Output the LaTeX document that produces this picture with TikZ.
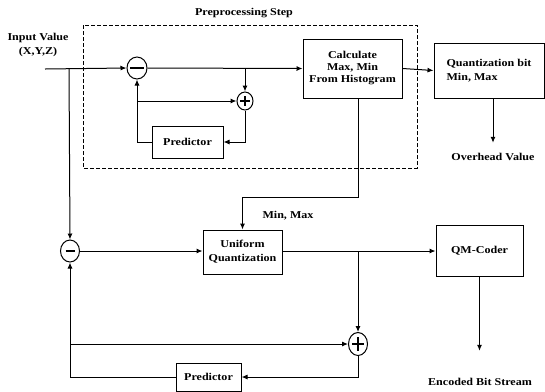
\documentclass[tikz,border=0pt]{standalone}
\usepackage{fontspec}
\setmainfont{Liberation Serif}[FakeStretch=1.15]
\usetikzlibrary{arrows.meta,shapes.geometric}

\begin{document}
\begin{tikzpicture}[x=1bp,y=-1bp,
    font=\fontsize{10.5bp}{12bp}\selectfont\bfseries,
    line width=1bp,
    >={Latex[length=6bp,width=5bp]},
    blok/.style={draw,align=center,inner sep=1bp},
    junc/.style={draw,ellipse,inner sep=0pt,minimum width=19bp,minimum height=22bp},
    lbl/.style={align=center,inner sep=1bp},
    sign/.style={line width=1.4bp}]
    \useasboundingbox (0,0) rectangle (545,391);

    % preprocessing part
    \draw[dashed,dash pattern=on 4bp off 2bp] (83,25) rectangle (417,168);
    \node[lbl] (pstep) at (244,13) {Preprocessing Step};

    \node[lbl] (inval) at (38,45) {Input Value\\[2bp](X,Y,Z)};
    \coordinate (in) at (45,69);
    \coordinate (s1) at (69,69);

    \node[junc,minimum width=20bp] (m1) at (137,68) {};
    \node[junc,minimum width=16bp,minimum height=18bp] (p1) at (245,101) {};
    \node[blok,minimum width=71bp,minimum height=32bp] (pred1) at (187.5,142) {Predictor};
    \node[blok,minimum width=99bp,minimum height=59bp] (calc) at (352.5,68.5) {Calculate\\Max, Min\\From Histogram};
    \node[blok,align=left,minimum width=110bp,minimum height=55bp] (quant) at (489,70.5) {Quantization bit\\[2bp]Min, Max};
    \node[lbl] (ov) at (493,157) {Overhead Value};

    \draw[sign] (m1.center) +(-7,0) -- +(7,0);
    \draw[sign] (p1.center) +(-5,0) -- +(5,0) (p1.center) +(0,-5) -- +(0,5);

    \coordinate (b1) at (245,68);
    \coordinate (b2) at (137,101);

    \draw[->] (in) -- (m1.west);
    \draw[->] (m1.east) -- (calc.west);
    \draw[->] (b1) -- (p1.north);
    \draw[->] (b2) -- (p1.west);
    \draw[->] (p1.south) |- (pred1.east);
    \draw[->] (pred1.west) -| (m1.south);
    \draw[->] (calc.east) -- (quant.west);
    \draw[->,shorten >=9bp] (ov |- quant.south) -- (ov.north);

    % coding part
    \node[junc] (m2) at (70,251) {};
    \node[blok,minimum width=79bp,minimum height=44bp] (uq) at (242.5,252) {Uniform\\[2bp]Quantization};
    \node[blok,minimum width=87bp,minimum height=51bp] (qm) at (479.5,250.5) {QM-Coder};
    \node[junc,minimum height=23bp] (p2) at (358,344) {};
    \node[blok,minimum width=65bp,minimum height=28bp] (pred2) at (208.5,377) {Predictor};
    \node[lbl] (mm) at (288,216) {Min, Max};
    \node[lbl] (ebs) at (480,382) {Encoded Bit Stream};

    \draw[sign] (m2.center) +(-4.5,0) -- +(4.5,0);
    \draw[sign] (p2.center) +(-6,0) -- +(6,0) (p2.center) +(0,-7) -- +(0,7);

    \coordinate (b3) at (358,251);
    \coordinate (b4) at (70,344);

    \draw[->] (s1) -- (m2.north);
    \draw[->] (calc.south -| b3) -- ++(0,99) -| (uq.north);
    \draw[->] (m2.east) -- (m2.east -| uq.west);
    \draw[->] (b3 -| uq.east) -- (b3 -| qm.west);
    \draw[->] (b3) -- (p2.north);
    \draw[->] (b4) -- (p2.west);
    \draw[->] (p2.south) |- (pred2.east);
    \draw[->] (pred2.west) -| (m2.south);
    \draw[->,shorten >=26bp] (qm.south) -- (qm.south |- ebs.north);
\end{tikzpicture}
\end{document}
